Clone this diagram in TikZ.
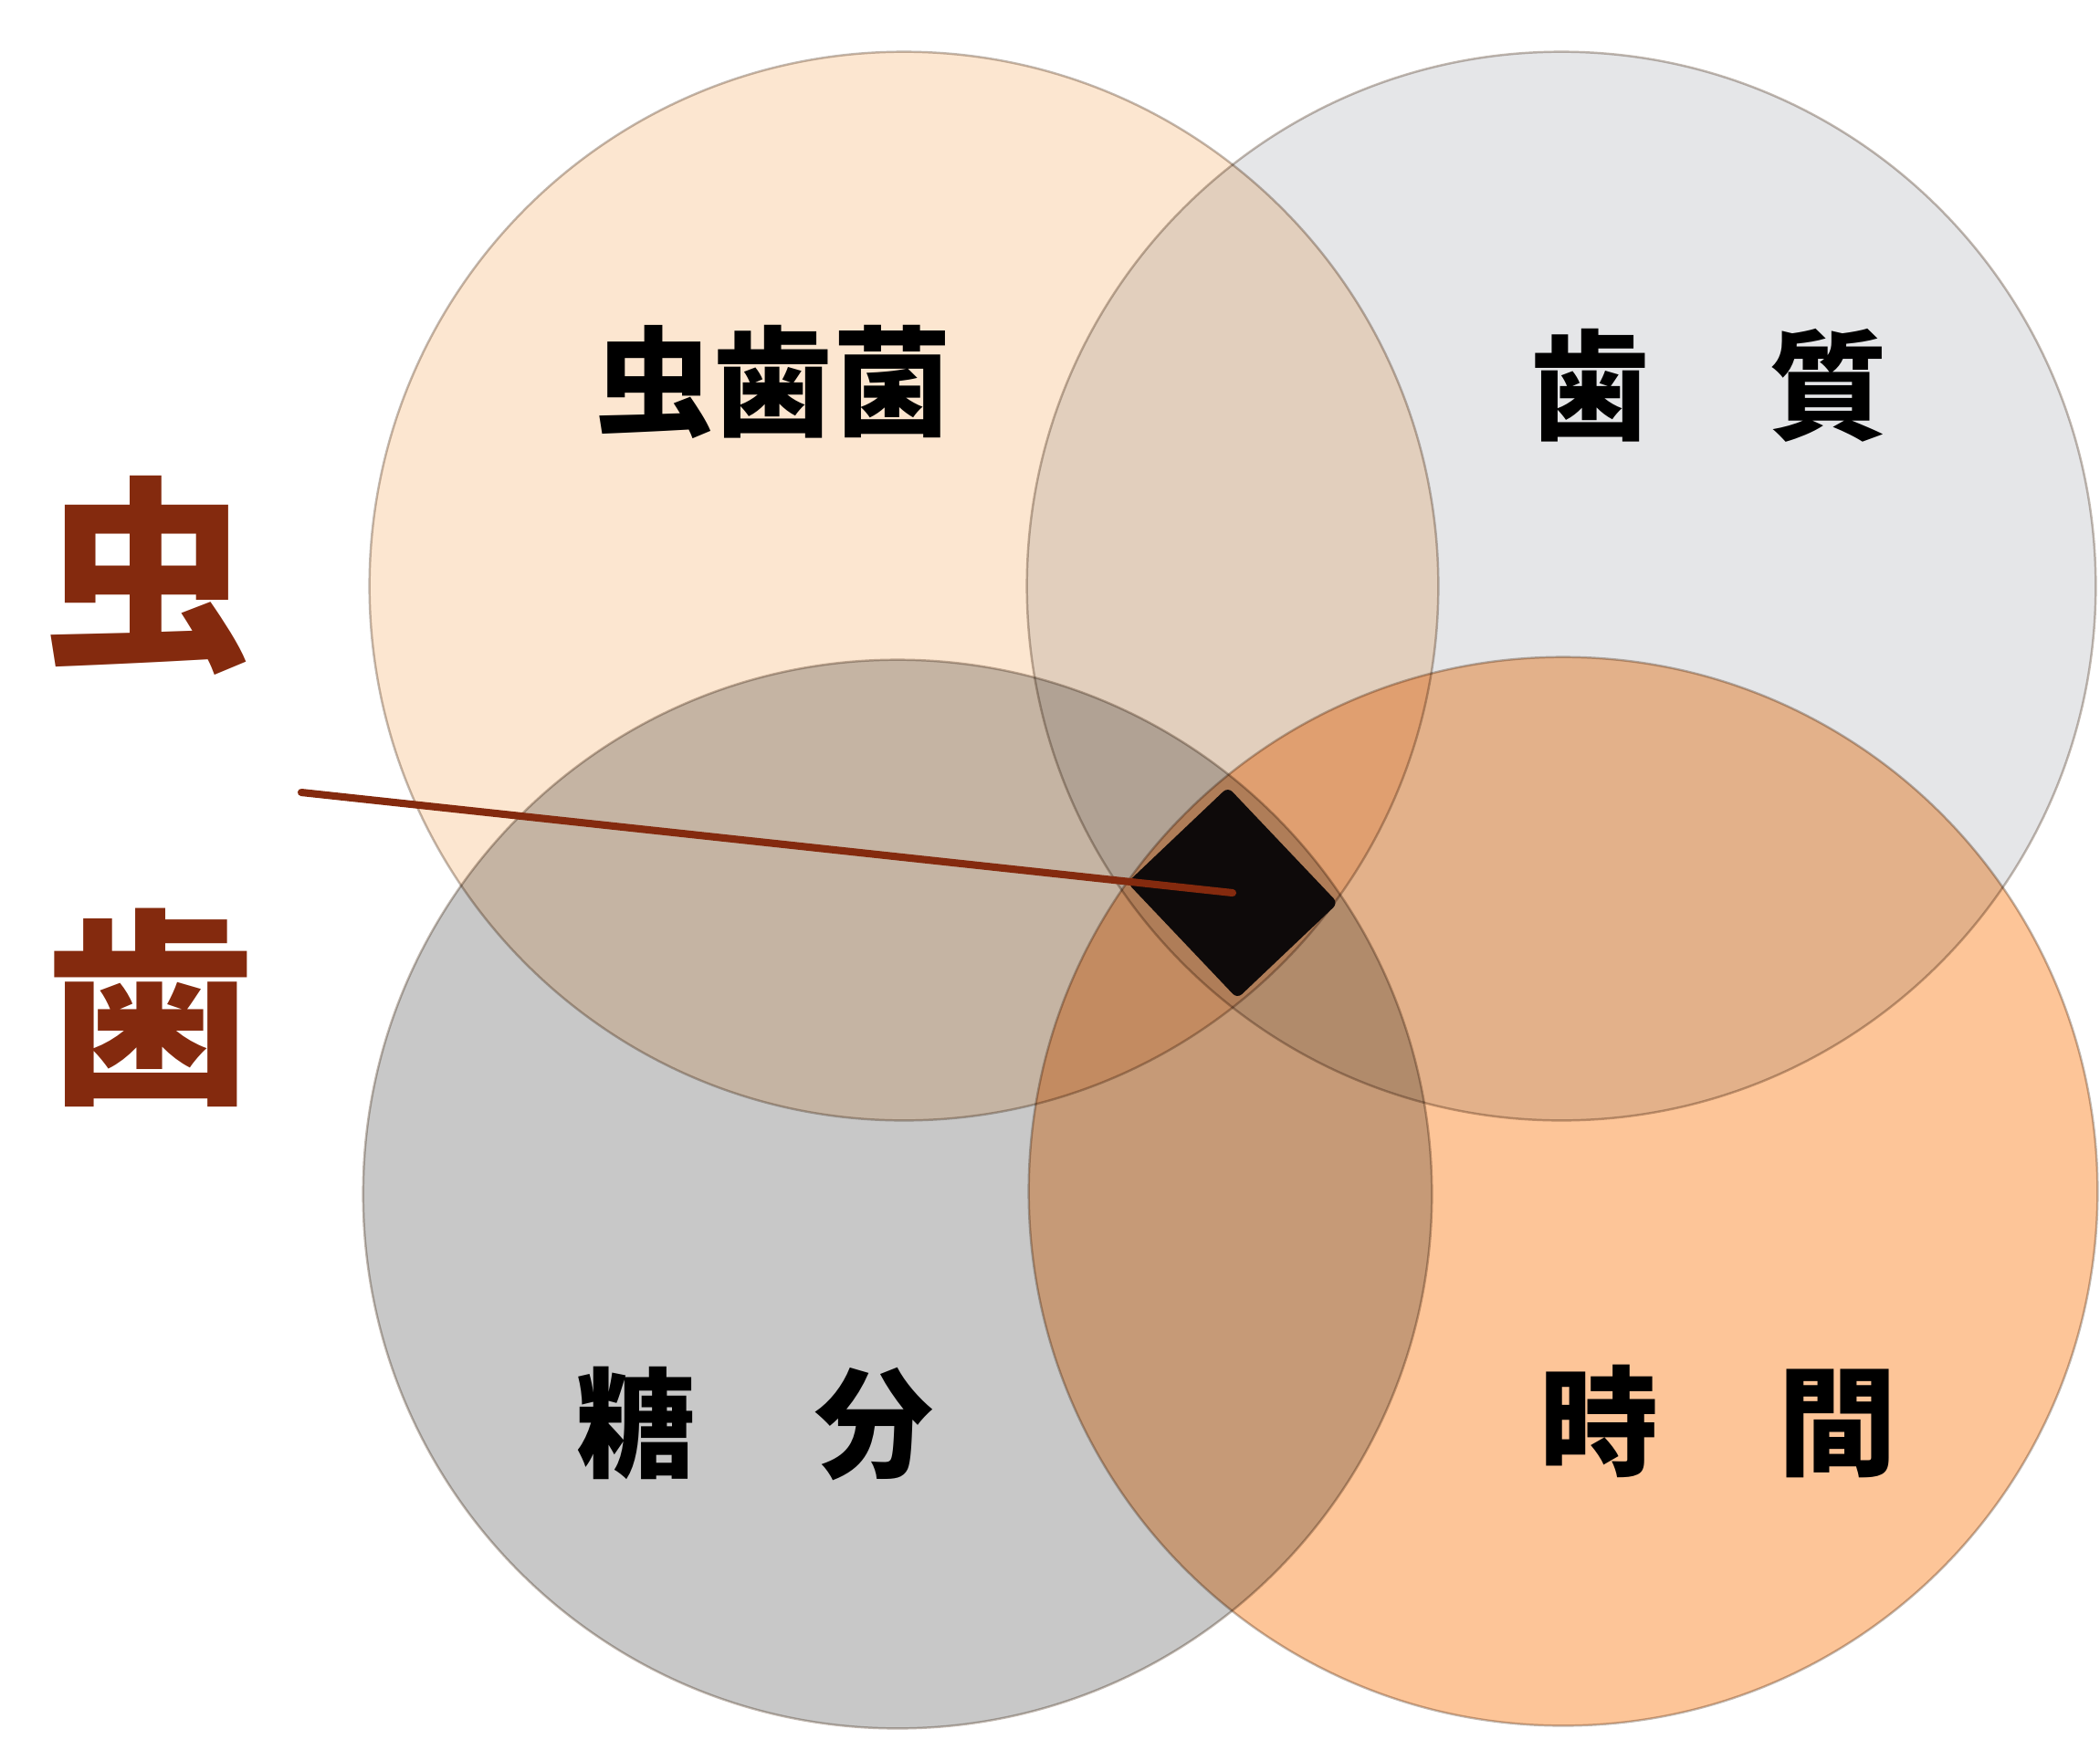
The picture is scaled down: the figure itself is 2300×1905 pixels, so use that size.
\documentclass[tikz,border=0pt]{standalone}
\usepackage{fontspec}
\newfontfamily\cjk{Noto Sans CJK JP}
\definecolor{cTL}{HTML}{FCE6D0}
\definecolor{cTR}{HTML}{E5E6E8}
\definecolor{cBL}{HTML}{C8C8C8}
\definecolor{cBR}{HTML}{FDC598}
\definecolor{rim}{HTML}{C2B9B1}
\definecolor{caries}{HTML}{842A0E}
\definecolor{spotc}{HTML}{0E0A0A}
\begin{document}
\begin{tikzpicture}[x=0.01cm,y=-0.01cm,
  zone/.style={circle, inner sep=0pt, minimum size=11.7cm, draw=rim, line width=0.7pt},
  zonetext/.style={font=\cjk\bfseries\fontsize{37}{37}\selectfont, text=black, inner sep=0pt},
  bigchar/.style={font=\cjk\bfseries\fontsize{65}{65}\selectfont, text=caries, inner sep=0pt}]
\fill[white] (0,0) rectangle (2300,1905);
\useasboundingbox (0,0) rectangle (2300,1905);
\begin{scope}[blend group=multiply]
  \node[zone, fill=cTL] (tl) at (990,642) {};
  \node[zone, fill=cTR] (tr) at (1710,642) {};
  \node[zone, fill=cBL] (bl) at (983,1308) {};
  \node[zone, fill=cBR] (br) at (1712,1305) {};
\end{scope}
\node[zonetext] (ttl) at (847,418) {虫歯菌};
\node[zonetext] (ttr) at (1872,422) {歯　質};
\node[zonetext] (tbl) at (827,1559) {糖　分};
\node[zonetext] (tbr) at (1882,1557) {時　間};
\node[bigchar] (b1) at (161,630) {虫};
\node[bigchar] (b2) at (165,1104) {歯};
\node[fill=spotc, rotate=-46.5, minimum width=1.75cm, minimum height=1.52cm, rounded corners=2pt, inner sep=0pt] (spot) at (1350,978) {};
\coordinate (tail) at (330,868);
\draw[caries, line width=2.3pt, line cap=round] (tail) -- (spot.center);
\end{tikzpicture}
\end{document}
